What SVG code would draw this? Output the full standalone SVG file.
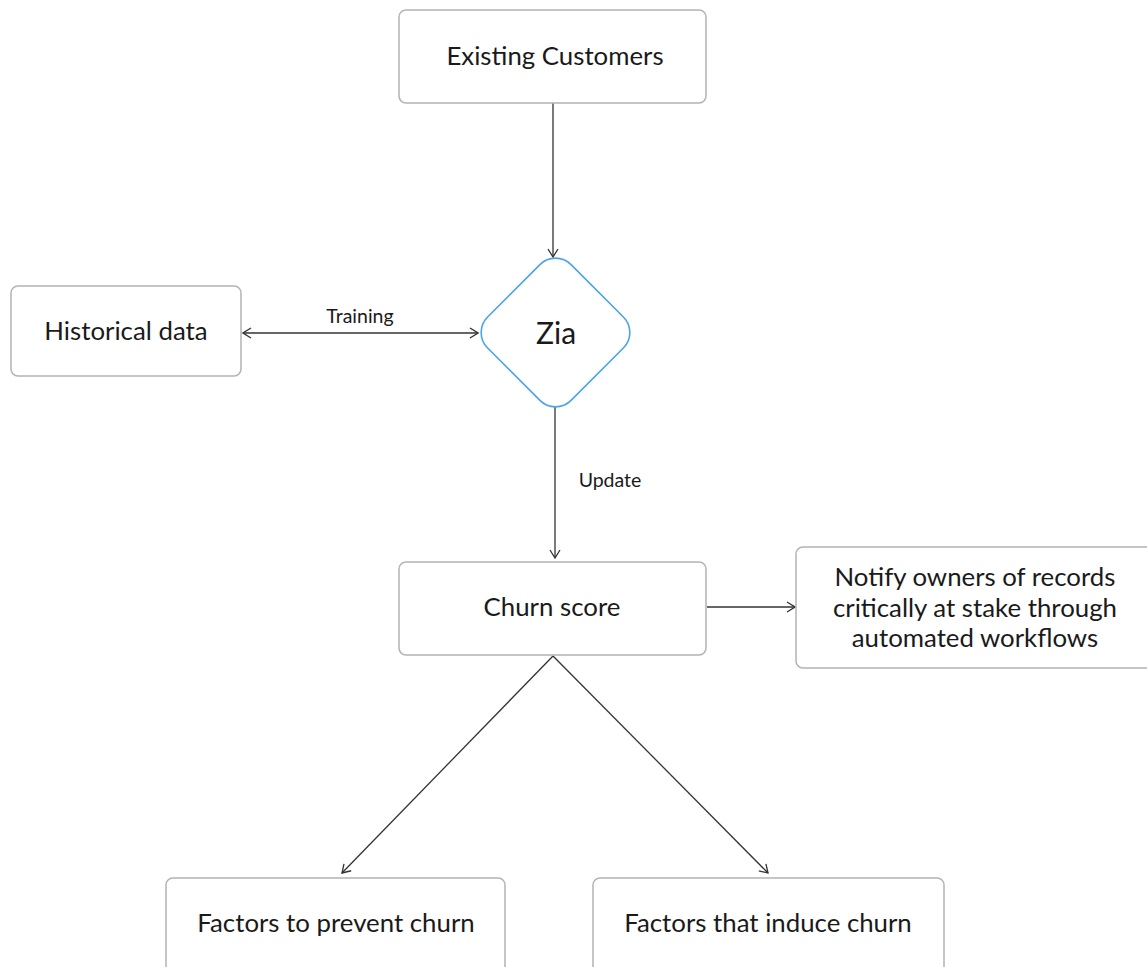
<svg xmlns="http://www.w3.org/2000/svg" width="1147" height="967" viewBox="0 0 1147 967">
<defs>
<style>
.box{fill:#fff;stroke:#b3b3b3;stroke-width:1.5}
.dia{fill:#fff;stroke:#4aa3eb;stroke-width:1.6}
.t{font-family:Lato,"Liberation Sans",sans-serif;fill:#1a1a1a;text-anchor:middle;dominant-baseline:central}
.big{font-size:25.8px}
.lbl{font-size:19.5px}
.edge{fill:none;stroke:#333;stroke-width:1.3}
</style>
<marker id="arr" viewBox="0 0 12 12" refX="11" refY="6" markerWidth="12" markerHeight="12" markerUnits="userSpaceOnUse" orient="auto-start-reverse">
<path d="M3,1 L11,6 L3,11" fill="none" stroke="#333" stroke-width="1.3"/>
</marker>
</defs>
<rect width="1147" height="967" fill="#fff"/>
<g id="connectors">
<line class="edge" x1="553" y1="103" x2="553" y2="257" marker-end="url(#arr)"/>
<line class="edge" x1="243" y1="333" x2="478" y2="333" marker-start="url(#arr)" marker-end="url(#arr)"/>
<text class="t lbl" x="360" y="315">Training</text>
<line class="edge" x1="555" y1="407" x2="555" y2="558" marker-end="url(#arr)"/>
<text class="t lbl" x="610" y="479">Update</text>
<line class="edge" x1="707" y1="607" x2="795" y2="607" marker-end="url(#arr)"/>
<line class="edge" x1="553" y1="656" x2="342" y2="873" marker-end="url(#arr)"/>
<line class="edge" x1="553" y1="656" x2="768" y2="873" marker-end="url(#arr)"/>
</g>
<g id="existing-customers">
<rect class="box" x="399" y="10" width="307" height="93" rx="7"/>
<text class="t big" x="555" y="55">Existing Customers</text>
</g>
<g id="zia">
<rect class="dia" x="-59" y="-59" width="118" height="118" rx="22" transform="translate(555.5 332.5) rotate(45)"/>
<text class="t" x="556" y="332" font-size="30">Zia</text>
</g>
<g id="historical-data">
<rect class="box" x="11" y="286" width="230" height="90" rx="7"/>
<text class="t big" x="126" y="330">Historical data</text>
</g>
<g id="churn-score">
<rect class="box" x="399" y="562" width="307" height="93" rx="7"/>
<text class="t big" x="552" y="606">Churn score</text>
</g>
<g id="notify">
<rect class="box" x="796" y="547" width="360" height="121" rx="7"/>
<text class="t big" x="975" y="576">Notify owners of records</text>
<text class="t big" x="975" y="607">critically at stake through</text>
<text class="t big" x="975" y="637">automated workflows</text>
</g>
<g id="factors-prevent">
<rect class="box" x="166" y="878" width="339" height="100" rx="7"/>
<text class="t big" x="336" y="922">Factors to prevent churn</text>
</g>
<g id="factors-induce">
<rect class="box" x="593" y="878" width="351" height="100" rx="7"/>
<text class="t big" x="768" y="922">Factors that induce churn</text>
</g>
</svg>
